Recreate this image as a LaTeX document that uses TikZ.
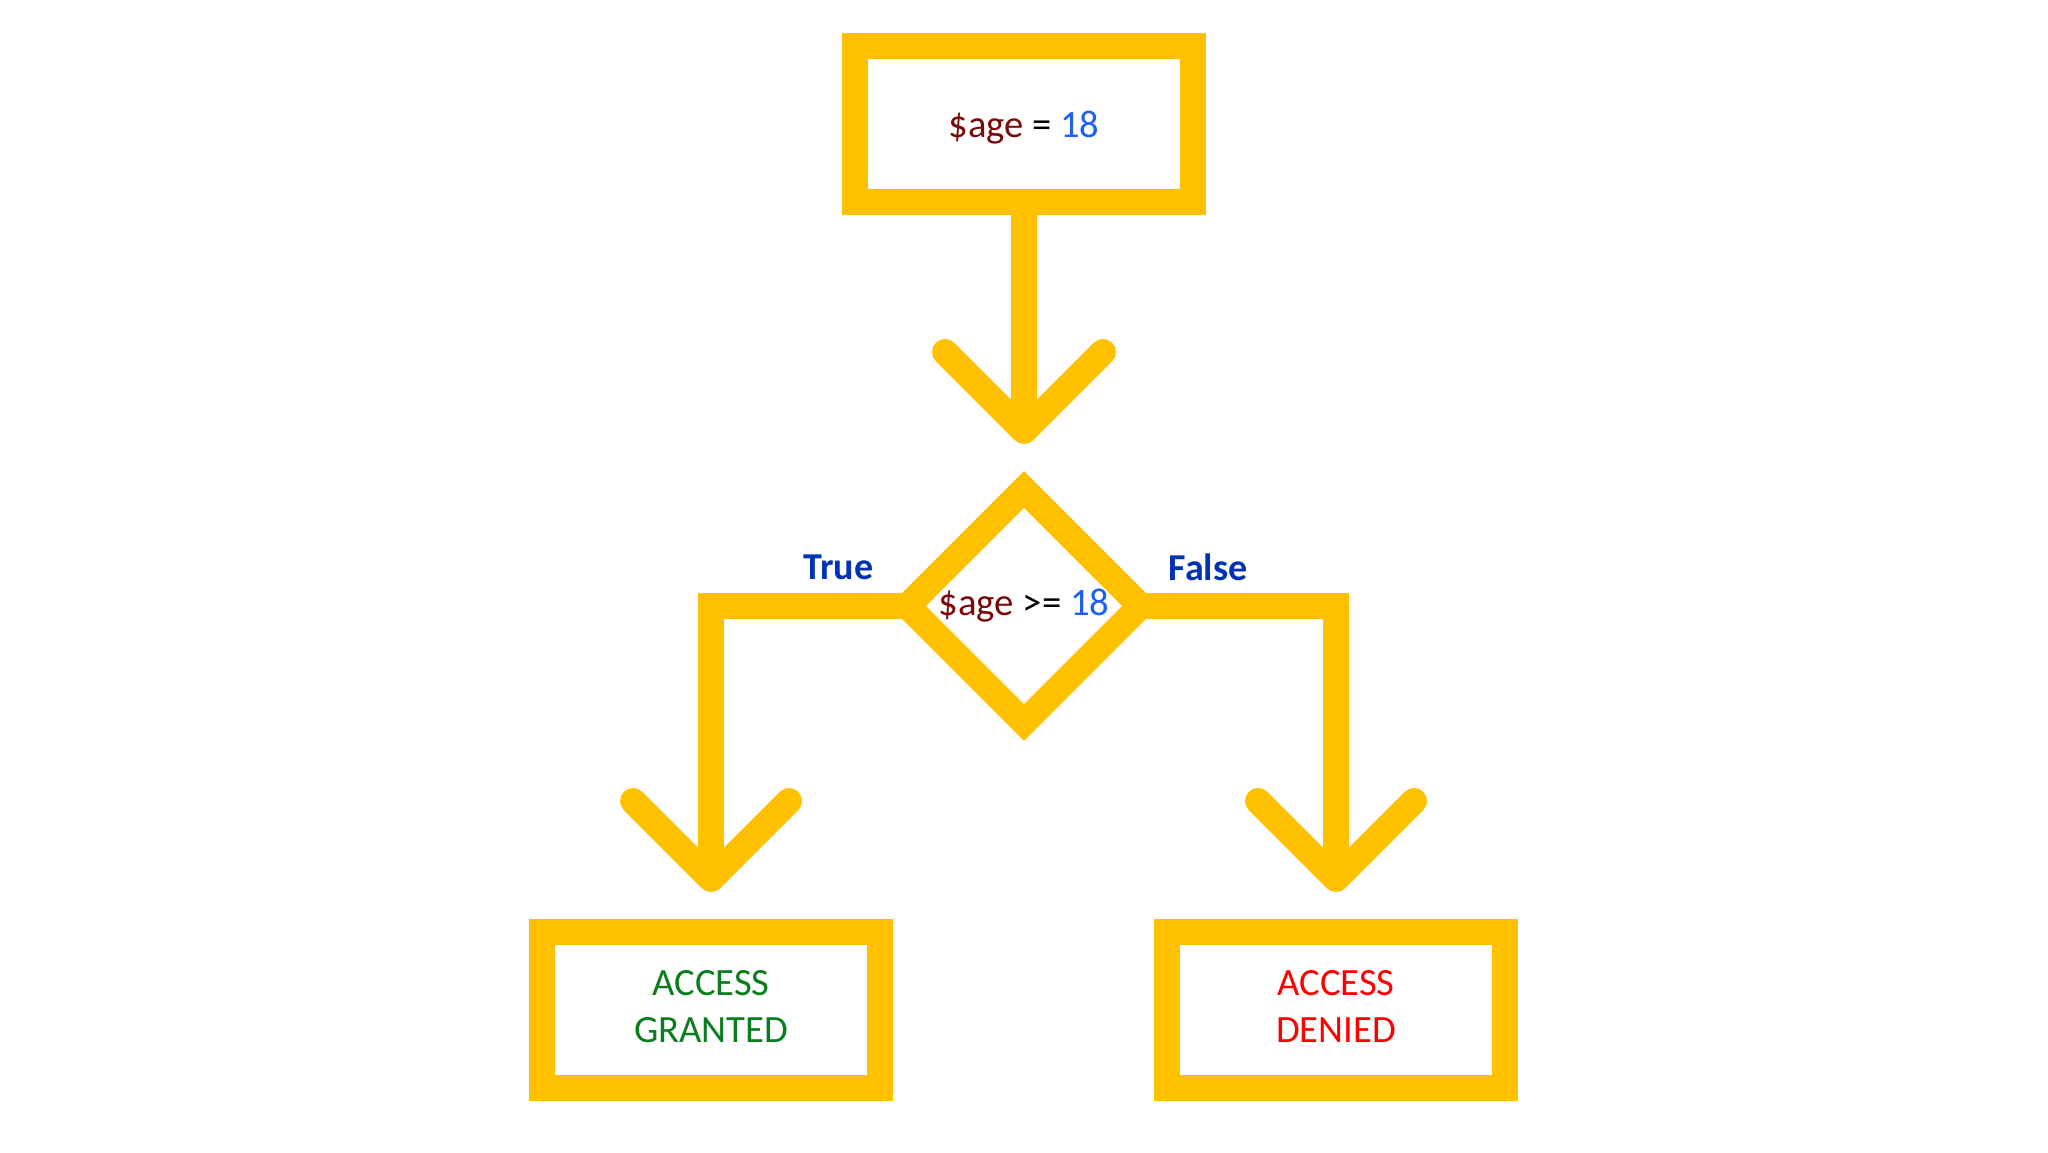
\documentclass[tikz,border=0pt]{standalone}
\usepackage{fontspec}
\setmainfont{Carlito}
\usetikzlibrary{shapes.geometric,calc}
\definecolor{flowyellow}{HTML}{FFC000}
\definecolor{agered}{HTML}{7A0A0A}
\definecolor{numblue}{HTML}{1F5FF5}
\definecolor{labelblue}{HTML}{0033B3}
\definecolor{grantgreen}{HTML}{0A7D1E}
\definecolor{denyred}{HTML}{FF0000}
\begin{document}
\begin{tikzpicture}[x=0.5pt,y=-0.5pt,
  box/.style={draw=flowyellow, line width=13pt, minimum width=169pt, minimum height=78pt,
    inner sep=0pt, align=center, font=\fontsize{19.3}{23.5}\selectfont},
  decision/.style={diamond, aspect=1, draw=flowyellow, line width=13pt, minimum width=116.5pt,
    minimum height=116.5pt, inner sep=0pt, outer sep=0pt, font=\fontsize{19.4}{22}\selectfont},
  conn/.style={draw=flowyellow, line width=13pt, line join=miter},
  chev/.style={draw=flowyellow, line width=13pt, line cap=round, line join=round},
  lbl/.style={font=\bfseries\fontsize{19}{22}\selectfont, text=labelblue}]
\useasboundingbox[fill=white] (0,0) rectangle (2048,1152);

\node[box, text height=17pt, text depth=4pt] (top) at (1024,124) {{\color{agered}\$age} = {\color{numblue}18}};
\node[decision] (dec) at (1024,606) {{\color{agered}\$age} >= {\color{numblue}18}};
\node[box, text=grantgreen, text depth=4pt] (grant) at (711,1010) {ACCESS\\GRANTED};
\node[box, text=denyred, text depth=4pt] (deny) at (1336,1010) {ACCESS\\DENIED};

\node[lbl] (tl) at (838.5,567) {True};
\node[lbl] (fl) at (1208,567) {False};

\coordinate (tv) at (1024,431);
\coordinate (gv) at (711,879);
\coordinate (dv) at (1336,879);

\draw[conn] (top.south) -- (tv);
\draw[chev] ($(tv)+(-79,-79)$) -- (tv) -- ($(tv)+(79,-79)$);
\draw[conn] (dec.west) -| (gv);
\draw[chev] ($(gv)+(-78,-78)$) -- (gv) -- ($(gv)+(78,-78)$);
\draw[conn] (dec.east) -| (dv);
\draw[chev] ($(dv)+(-78,-78)$) -- (dv) -- ($(dv)+(78,-78)$);
\end{tikzpicture}
\end{document}
